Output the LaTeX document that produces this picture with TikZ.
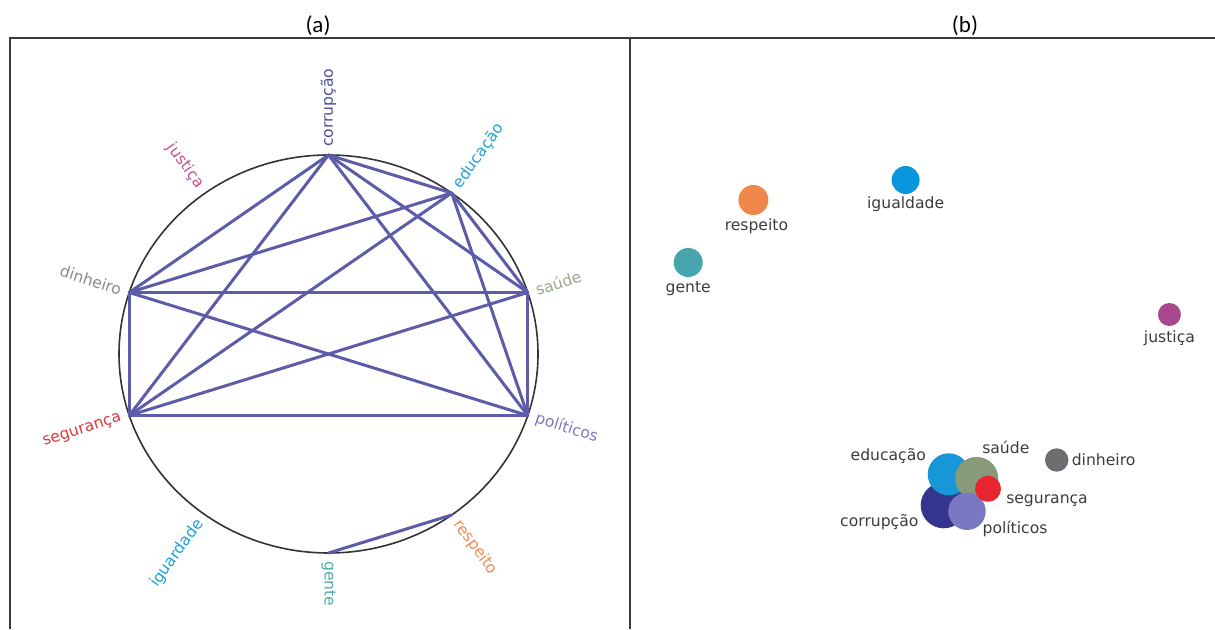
\documentclass[tikz,border=0pt]{standalone}
\usepackage{fontspec}
\setmainfont{DejaVu Sans}
\newfontfamily\capfont{Carlito}
\usetikzlibrary{positioning}

\definecolor{framegray}{HTML}{3A3A3A}
\definecolor{ringgray}{HTML}{333333}
\definecolor{linkblue}{HTML}{5C5CA8}
\definecolor{labgray}{HTML}{3C3C3C}
% ring label colours
\definecolor{rCorr}{HTML}{4E4E9A}
\definecolor{rEduc}{HTML}{1EA5D6}
\definecolor{rSaud}{HTML}{9AA88C}
\definecolor{rPoli}{HTML}{7D7BBD}
\definecolor{rResp}{HTML}{F08C55}
\definecolor{rGent}{HTML}{55AAB0}
\definecolor{rIgua}{HTML}{1E9FD8}
\definecolor{rSegu}{HTML}{E0353F}
\definecolor{rDinh}{HTML}{8A8A8A}
\definecolor{rJust}{HTML}{C8508C}
% bubble colours
\definecolor{bCorr}{HTML}{33358F}
\definecolor{bEduc}{HTML}{1797D8}
\definecolor{bSaud}{HTML}{879A79}
\definecolor{bPoli}{HTML}{7A78C0}
\definecolor{bSegu}{HTML}{E8262F}
\definecolor{bDinh}{HTML}{6C6D70}
\definecolor{bResp}{HTML}{F0874A}
\definecolor{bIgua}{HTML}{0A96DC}
\definecolor{bGent}{HTML}{47A5AD}
\definecolor{bJust}{HTML}{A8468E}

\tikzset{
  ringlab/.style={inner sep=0pt, font=\fontsize{15.6}{18}\selectfont},
  rlab/.style={ringlab, anchor=west},
  llab/.style={ringlab, anchor=east},
  link/.style={color=linkblue, line width=3pt, line cap=round},
  bub/.style={circle, inner sep=0pt, minimum size=2*#1},
  plab/.style={inner sep=0pt, text=labgray, font=\fontsize{15.6}{18}\selectfont},
  frame/.style={draw=framegray, line width=2.2pt}
}

\begin{document}
\begin{tikzpicture}[x=1pt,y=1pt]
  \useasboundingbox (0,0) rectangle (1215,629);
  % panels
  \draw[frame] (10,0) -- (10,591) -- (1215,591);
  \draw[frame] (630,591) -- (630,0);
  \node[font=\capfont\fontsize{23}{26}\selectfont] (tag-a) at (318,603) {(a)};
  \node[font=\capfont\fontsize{23}{26}\selectfont] (tag-b) at (965,603) {(b)};

  % (a) ring of words
  \begin{scope}[shift={(328.5,275)}, x=209.5pt, y=199pt]
   \draw[ringgray, line width=1.6pt] (0,0) ellipse [x radius=209.5pt, y radius=199pt];
   \coordinate (corr) at (90:1);
   \coordinate (educ) at (54:1);
   \coordinate (saud) at (18:1);
   \coordinate (poli) at (-18:1);
   \coordinate (resp) at (-54:1);
   \coordinate (gent) at (-90:1);
   \coordinate (igua) at (-126:1);
   \coordinate (segu) at (198:1);
   \coordinate (dinh) at (162:1);
   \coordinate (just) at (126:1);
   \node[rlab, rotate=90, text=rCorr] (corr-lab) at (90:1.04) {corrupção};
   \node[rlab, rotate=54, text=rEduc] (educ-lab) at (54:1.04) {educação};
   \node[rlab, rotate=18, text=rSaud] (saud-lab) at (18:1.04) {saúde};
   \node[rlab, rotate=-18, text=rPoli] (poli-lab) at (-18:1.04) {políticos};
   \node[rlab, rotate=-54, text=rResp] (resp-lab) at (-54:1.04) {respeito};
   \node[rlab, rotate=-90, text=rGent] (gent-lab) at (-90:1.04) {gente};
   \node[llab, rotate=54, text=rIgua] (igua-lab) at (-126:1.04) {iguardade};
   \node[llab, rotate=18, text=rSegu] (segu-lab) at (198:1.04) {segurança};
   \node[llab, rotate=-18, text=rDinh] (dinh-lab) at (162:1.04) {dinheiro};
   \node[llab, rotate=-54, text=rJust] (just-lab) at (126:1.04) {justiça};
  \end{scope}
  \path[link]
   (corr) edge (educ) edge (saud) edge (poli) edge (dinh) edge (segu)
   (educ) edge (saud) edge (poli) edge (dinh) edge (segu)
   (dinh) edge (saud) edge (segu) edge (poli)
   (saud) edge (poli) edge (segu)
   (segu) edge (poli)
   (gent) edge (resp);

  % (b) bubbles
  \node[bub=23, fill=bCorr] (b-corr) at (943.7,123.7) {};
  \node[bub=21, fill=bEduc] (b-educ) at (948.7,154.7) {};
  \node[bub=21.5, fill=bSaud] (b-saud) at (976.7,150.6) {};
  \node[bub=18.7, fill=bPoli] (b-poli) at (967,117.7) {};
  \node[bub=13, fill=bSegu] (b-segu) at (988,140.2) {};
  \node[bub=11.7, fill=bDinh] (b-dinh) at (1056.7,169) {};
  \node[bub=15, fill=bResp] (b-resp) at (753.4,429) {};
  \node[bub=14, fill=bIgua] (b-igua) at (905.6,449) {};
  \node[bub=14.5, fill=bGent] (b-gent) at (688.2,366.5) {};
  \node[bub=11.5, fill=bJust] (b-just) at (1169.4,314.5) {};
  \node[plab, below=2pt of b-igua] (l-igua) {igualdade};
  \node[plab, below=3pt of b-resp, xshift=3pt] (l-resp) {respeito};
  \node[plab, below=4pt of b-gent] (l-gent) {gente};
  \node[plab, below=4pt of b-just] (l-just) {justiça};
  \node[plab, right=3pt of b-dinh] (l-dinh) {dinheiro};
  \node[plab] (l-educ) at (888.3,173) {educação};
  \node[plab] (l-saud) at (1005.8,181.2) {saúde};
  \node[plab] (l-segu) at (1047,128.7) {segurança};
  \node[plab] (l-poli) at (1015,100) {políticos};
  \node[plab] (l-corr) at (879.3,107.3) {corrupção};
\end{tikzpicture}
\end{document}
